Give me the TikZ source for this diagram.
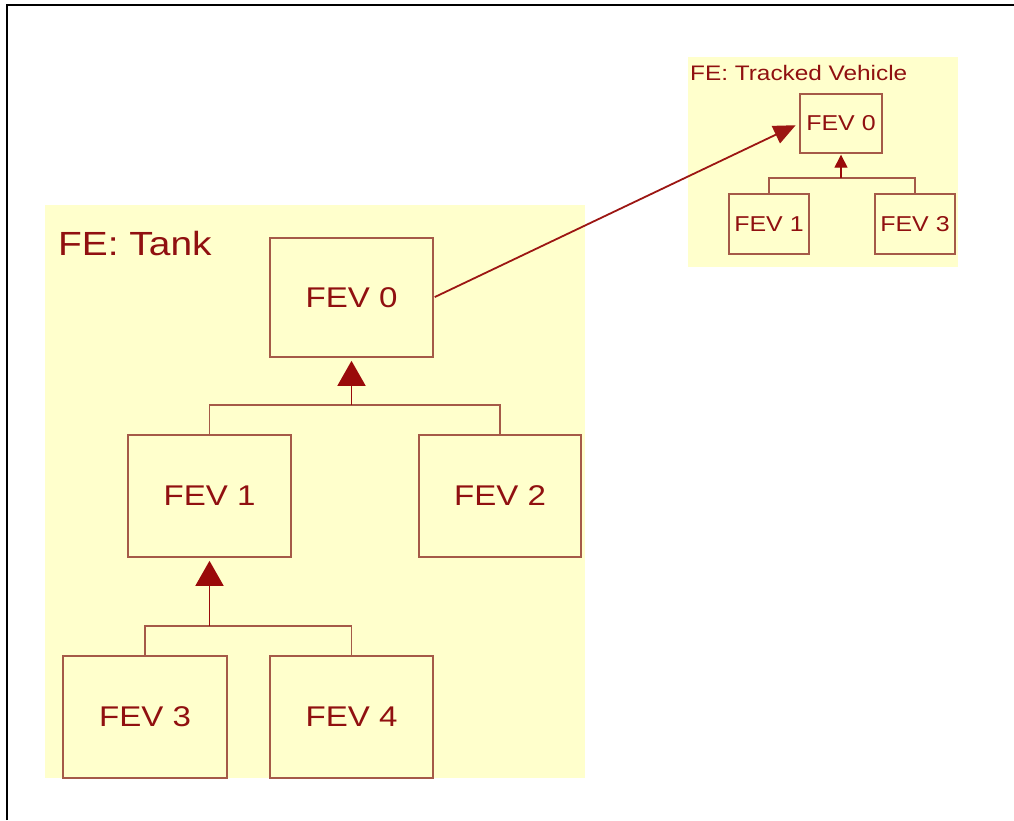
\documentclass[tikz,border=0pt]{standalone}
\usepackage{fontspec}
\newfontfamily\diafont[FakeStretch=1.16]{Liberation Sans}
\usetikzlibrary{arrows.meta}
\definecolor{panelfill}{HTML}{FFFFCC}
\definecolor{txtred}{HTML}{901010}
\definecolor{boxline}{HTML}{A55A48}
\definecolor{arrred}{HTML}{9A0A0A}
\begin{document}
\begin{tikzpicture}[x=1pt,y=-1pt,
  bigbox/.style={draw=boxline,line width=1.6pt,fill=panelfill,text=txtred,inner sep=0pt,
    font=\diafont\fontsize{28.5}{30}\selectfont},
  smallbox/.style={draw=boxline,line width=1.4pt,fill=panelfill,text=txtred,inner sep=0pt,
    font=\diafont\fontsize{21.5}{23}\selectfont},
  treeline/.style={draw=boxline,line width=1.6pt},
  bigtip/.style={-{Triangle[length=25pt,width=28pt]},draw=boxline,line width=1.6pt,color=arrred,shorten >=3pt},
  smalltip/.style={-{Triangle[length=13pt,width=13pt]},draw=boxline,line width=1.4pt,color=arrred,shorten >=1pt},
  panel/.style={fill=panelfill,draw=none}
]
\useasboundingbox (0,0) rectangle (1014,820);
\fill[white] (0,0) rectangle (1014,820);
% frame
\draw[line width=2.5pt,black] (7,820) -- (7,5) -- (1014,5);
% panels
\fill[panel] (45,205) rectangle (585,778);
\fill[panel] (688,57) rectangle (958,267);
\node[anchor=base west,text=txtred,font=\diafont\fontsize{33.5}{35}\selectfont,inner sep=0pt] (tanktitle) at (58,255) {FE: Tank};
\node[anchor=base west,text=txtred,font=\diafont\fontsize{21}{22}\selectfont,inner sep=0pt] (tvtitle) at (690,80) {FE: Tracked Vehicle};
% Tank tree
\node[bigbox,minimum width=163pt,minimum height=119pt] (f0) at (351.5,297.5) {FEV 0};
\node[bigbox,minimum width=163pt,minimum height=122pt] (f1) at (209.5,496) {FEV 1};
\node[bigbox,minimum width=162pt,minimum height=122pt] (f2) at (500,496) {FEV 2};
\node[bigbox,minimum width=164pt,minimum height=122pt] (f3) at (145,717) {FEV 3};
\node[bigbox,minimum width=163pt,minimum height=122pt] (f4) at (351.5,717) {FEV 4};
\coordinate (j0) at (351.5,405);
\coordinate (j1) at (209.5,626);
\draw[treeline] (f1.north) |- (j0) -| (f2.north);
\draw[bigtip] (j0) -- (f0.south);
\draw[treeline] (f3.north) |- (j1) -| (f4.north);
\draw[bigtip] (j1) -- (f1.south);
% Tracked vehicle tree
\node[smallbox,minimum width=82pt,minimum height=59pt] (s0) at (841,123.5) {FEV 0};
\node[smallbox,minimum width=80pt,minimum height=60pt] (s1) at (769,224) {FEV 1};
\node[smallbox,minimum width=80pt,minimum height=60pt] (s3) at (915,224) {FEV 3};
\coordinate (k0) at (841,178);
\draw[treeline,line width=1.4pt] (s1.north) |- (k0) -| (s3.north);
\draw[smalltip] (k0) -- (s0.south);
% link
\draw[-{Triangle[length=22pt,width=19pt]},line width=1.8pt,color=arrred!85!boxline,shorten >=4pt,shorten <=1pt] (f0.east) -- (s0.west);
\end{tikzpicture}
\end{document}
